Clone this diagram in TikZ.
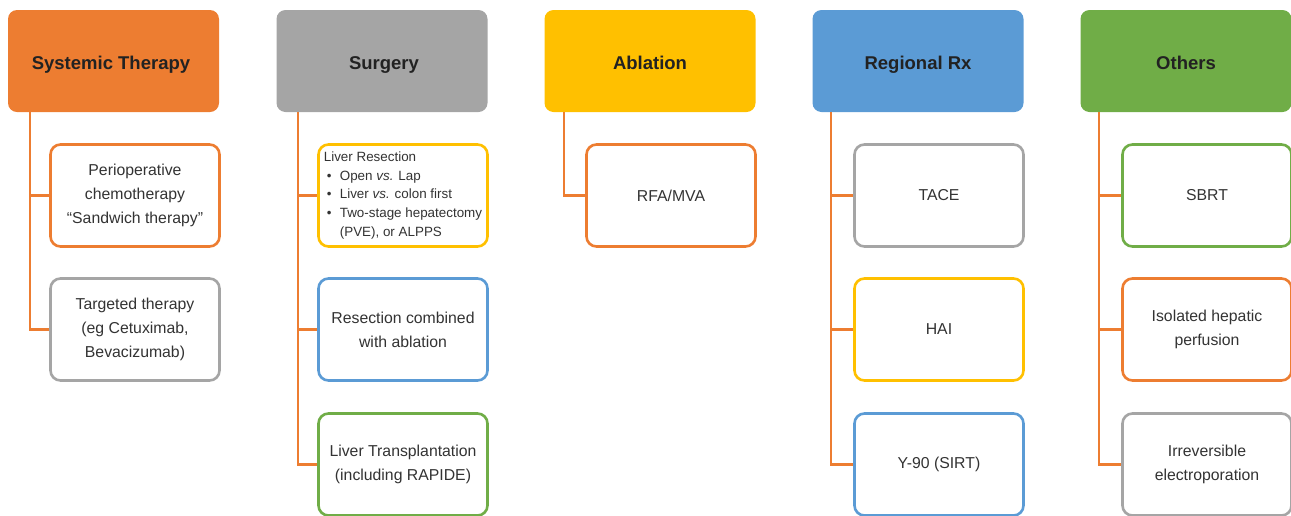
\documentclass[tikz,border=0pt]{standalone}
\usepackage{fontspec}
\setmainfont{Liberation Sans}
\definecolor{cOrange}{HTML}{ED7D31}
\definecolor{cGray}{HTML}{A5A5A5}
\definecolor{cGold}{HTML}{FFC000}
\definecolor{cBlue}{HTML}{5B9BD5}
\definecolor{cGreen}{HTML}{70AD47}
\definecolor{headtext}{HTML}{222222}
\definecolor{bodytext}{HTML}{333333}
\begin{document}
\begin{tikzpicture}[x=1pt,y=-1pt,
  head/.style={fill=#1, rounded corners=9pt, minimum width=211pt, minimum height=102pt,
    inner sep=0pt, text height=13.5pt, text depth=4pt,
    font=\bfseries\fontsize{18.5}{22}\selectfont, text=headtext},
  headlabel/.style={font=\bfseries\fontsize{18.5}{22}\selectfont, text=headtext,
    inner sep=0pt, text height=13.5pt, text depth=4pt},
  item/.style={draw=#1, line width=2.6pt, rounded corners=10pt, fill=white,
    minimum width=169pt, minimum height=102pt, inner sep=2pt, align=center,
    font=\fontsize{15.8}{24}\selectfont, text=bodytext},
  link/.style={draw=cOrange, line width=2.6pt}]
\useasboundingbox (0,0) rectangle (1291,515);

% column headers: coloured boxes with their titles set slightly low
\node[head=cOrange] (h1) at (113.5,61) {};
\node[head=cGray]   (h2) at (382,61)   {};
\node[head=cGold]   (h3) at (650,61)   {};
\node[head=cBlue]   (h4) at (918,61)   {};
\node[head=cGreen]  (h5) at (1186,61)  {};
\node[headlabel] (l1) at (111,64.5)  {Systemic Therapy};
\node[headlabel] (l2) at (384,64.5)  {Surgery};
\node[headlabel] (l3) at (650,64.5)  {Ablation};
\node[headlabel] (l4) at (918,64.5)  {Regional Rx};
\node[headlabel] (l5) at (1186,64.5) {Others};

% trunk starting points below each header
\coordinate (t1) at (30,112);
\coordinate (t2) at (298,112);
\coordinate (t3) at (564,112);
\coordinate (t4) at (831,112);
\coordinate (t5) at (1099,112);

% Systemic therapy
\node[item=cOrange] (a1) at (135,195.5) {Perioperative\\chemotherapy\\“Sandwich therapy”};
\node[item=cGray]   (a2) at (135,329.5) {Targeted therapy\\(eg Cetuximab,\\Bevacizumab)};

% Surgery
\node[item=cGold, align=left, font=\fontsize{13.4}{18.7}\selectfont] (b1) at (403,195.5)
  {Liver Resection\\
   \makebox[16pt][l]{\hspace{3pt}\textbullet}Open \textit{vs.} Lap\\
   \makebox[16pt][l]{\hspace{3pt}\textbullet}Liver \textit{vs.} colon first\\
   \makebox[16pt][l]{\hspace{3pt}\textbullet}Two-stage hepatectomy\\
   \hspace*{16pt}(PVE), or ALPPS};
\node[item=cBlue]  (b2) at (403,329.5) {Resection combined\\with ablation};
\node[item=cGreen] (b3) at (403,464.5) {Liver Transplantation\\(including RAPIDE)};

% Ablation
\node[item=cOrange] (c1) at (671,195.5) {RFA/MVA};

% Regional therapy
\node[item=cGray]  (d1) at (939,195.5) {TACE};
\node[item=cGold]  (d2) at (939,329.5) {HAI};
\node[item=cBlue]  (d3) at (939,464.5) {Y-90 (SIRT)};

% Others
\node[item=cGreen]  (e1) at (1207,195.5) {SBRT};
\node[item=cOrange] (e2) at (1207,329.5) {Isolated hepatic\\perfusion};
\node[item=cGray]   (e3) at (1207,464.5) {Irreversible\\electroporation};

% connectors
\draw[link] (t1) |- (a2.west);
\draw[link] (t1) |- (a1.west);
\draw[link] (t2) |- (b3.west);
\draw[link] (t2) |- (b2.west);
\draw[link] (t2) |- (b1.west);
\draw[link] (t3) |- (c1.west);
\draw[link] (t4) |- (d3.west);
\draw[link] (t4) |- (d2.west);
\draw[link] (t4) |- (d1.west);
\draw[link] (t5) |- (e3.west);
\draw[link] (t5) |- (e2.west);
\draw[link] (t5) |- (e1.west);
\end{tikzpicture}
\end{document}
